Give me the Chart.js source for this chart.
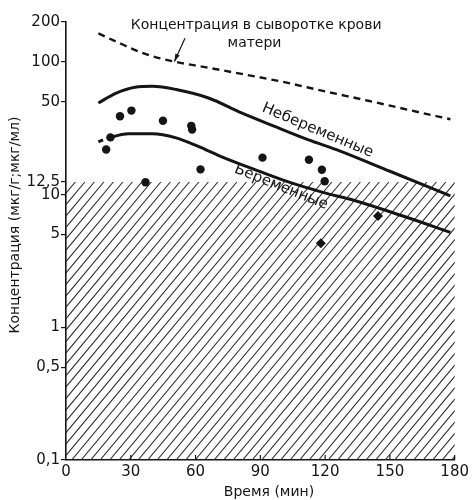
<!DOCTYPE html>
<html>
<head>
<meta charset="utf-8">
<script src="https://cdn.jsdelivr.net/npm/chart.js@4.4.0/dist/chart.umd.min.js"></script>
<style>
    body { margin: 0; background: #fff; }
    canvas { display: block; }
</style>
</head>
<body>
<canvas id="chart" width="472" height="500"></canvas>
<script>
// ---- data ----
const serumTime = [15, 25, 38, 50, 65, 80, 100, 120, 140, 160, 178];
const serumConc = [164, 138, 113, 100.7, 91, 82, 71, 60, 51, 43, 37];

const nonPregTime = [15, 23, 32, 40, 51, 66, 81, 96, 112, 127, 150, 178];
const nonPregConc = [49, 58, 64.5, 65.5, 62, 53.5, 41.5, 33, 26, 21.3, 15, 9.8];

const pregTime = [15, 20, 29, 40, 51, 61, 73, 89, 104, 119, 134, 156, 178];
const pregConc = [25, 26.8, 28.8, 28.8, 26.8, 23.2, 19, 15.1, 12.3, 10.4, 9.0, 6.9, 5.2];

const dotTime = [18.6, 20.6, 25, 30.3, 36.8, 44.9, 58, 58.4, 62.3, 91, 112.5, 118.5, 119.8];
const dotConc = [21.9, 27, 39, 43, 12.4, 36, 33, 31, 15.5, 19, 18.3, 15.4, 12.6];

const diamondTime = [118, 144.5];
const diamondConc = [4.3, 6.9];

const xTicks = [0, 30, 60, 90, 120, 150, 180];
const yTicks = [0.1, 0.5, 1, 5, 10, 12.5, 50, 100, 200];
const hatchLimit = 12.5;

const FONT = "'DejaVu Sans', sans-serif";
const INK = '#151515';

const pts = (xs, ys) => xs.map((x, i) => ({x: x, y: ys[i]}));

// hatched area below the detection limit + small inner x ticks
const hatchPlugin = {
    id: 'hatch',
    beforeDatasetsDraw(chart) {
        const ctx = chart.ctx;
        const xs = chart.scales.x, ys = chart.scales.y;
        const left = xs.getPixelForValue(0), right = xs.getPixelForValue(180);
        const top = ys.getPixelForValue(hatchLimit), bottom = ys.getPixelForValue(0.1);
        const h = bottom - top;
        const run = h / 1.2;
        ctx.save();
        ctx.beginPath();
        ctx.rect(left, top, right - left, h);
        ctx.clip();
        ctx.strokeStyle = '#2a2a2a';
        ctx.lineWidth = 1.1;
        ctx.beginPath();
        for (let x = left - run; x < right + 10; x += 9.5) {
            ctx.moveTo(x, bottom);
            ctx.lineTo(x + run, top);
        }
        ctx.stroke();
        ctx.restore();

        ctx.save();
        ctx.strokeStyle = INK;
        ctx.lineWidth = 1.2;
        ctx.beginPath();
        xTicks.slice(1).forEach(v => {
            const px = xs.getPixelForValue(v);
            ctx.moveTo(px, xs.top);
            ctx.lineTo(px, xs.top - 5);
        });
        ctx.stroke();
        ctx.restore();
    }
};

// texts, arrow and axis titles
const labelPlugin = {
    id: 'labels',
    afterDatasetsDraw(chart) {
        const ctx = chart.ctx;
        const xs = chart.scales.x, ys = chart.scales.y;
        const area = chart.chartArea;
        const px = t => xs.getPixelForValue(t);
        const py = v => ys.getPixelForValue(v);

        ctx.save();
        ctx.fillStyle = INK;
        ctx.textBaseline = 'middle';

        // maternal serum caption
        ctx.font = '14px ' + FONT;
        ctx.textAlign = 'left';
        ctx.fillText('Концентрация в сыворотке крови', px(30), py(188));
        ctx.textAlign = 'center';
        ctx.fillText('матери', px(87.3), py(139));

        // arrow to the dashed line
        const ax0 = px(55.1), ay0 = py(151), ax1 = px(50.2), ay1 = py(100.7);
        ctx.strokeStyle = INK;
        ctx.lineWidth = 1.2;
        ctx.beginPath();
        ctx.moveTo(ax0, ay0);
        ctx.lineTo(ax1, ay1);
        ctx.stroke();
        const ang = Math.atan2(ay1 - ay0, ax1 - ax0);
        ctx.beginPath();
        ctx.moveTo(ax1, ay1);
        ctx.lineTo(ax1 - 8 * Math.cos(ang - 0.3), ay1 - 8 * Math.sin(ang - 0.3));
        ctx.lineTo(ax1 - 8 * Math.cos(ang + 0.3), ay1 - 8 * Math.sin(ang + 0.3));
        ctx.closePath();
        ctx.fill();

        // curve labels
        ctx.font = '15px ' + FONT;
        ctx.save();
        ctx.translate(px(116.5), py(30.4));
        ctx.rotate(22.8 * Math.PI / 180);
        ctx.fillText('Небеременные', 0, 0);
        ctx.restore();

        ctx.save();
        ctx.translate(px(99.6), py(11.4));
        ctx.rotate(21.7 * Math.PI / 180);
        ctx.fillText('Беременные', 0, 0);
        ctx.restore();

        // axis titles
        ctx.font = '14px ' + FONT;
        ctx.save();
        ctx.translate(15, (area.top + area.bottom) / 2 - 16);
        ctx.rotate(-Math.PI / 2);
        ctx.fillText('Концентрация (мкг/г;мкг/мл)', 0, 0);
        ctx.restore();

        ctx.fillText('Время (мин)', px(94), area.bottom + 32);
        ctx.restore();
    }
};

new Chart(document.getElementById('chart'), {
    type: 'scatter',
    data: {
        datasets: [{
            data: pts(serumTime, serumConc),
            showLine: true,
            borderColor: INK,
            borderWidth: 2.4,
            borderDash: [7, 5],
            pointRadius: 0,
            cubicInterpolationMode: 'monotone'
        }, {
            data: pts(nonPregTime, nonPregConc),
            showLine: true,
            borderColor: INK,
            borderWidth: 3,
            pointRadius: 0,
            cubicInterpolationMode: 'monotone'
        }, {
            data: pts(pregTime, pregConc),
            showLine: true,
            borderColor: INK,
            borderWidth: 3,
            pointRadius: 0,
            cubicInterpolationMode: 'monotone',
            segment: {
                borderDash: c => c.p0DataIndex === 0 ? [5, 4] : undefined
            }
        }, {
            data: pts(dotTime, dotConc),
            pointRadius: 4.2,
            backgroundColor: INK,
            borderColor: INK,
            borderWidth: 0
        }, {
            data: pts(diamondTime, diamondConc),
            pointStyle: 'rectRot',
            pointRadius: 5,
            backgroundColor: INK,
            borderColor: INK,
            borderWidth: 0
        }]
    },
    options: {
        responsive: false,
        animation: false,
        layout: {padding: {left: 0, top: 22, right: 12, bottom: 0}},
        plugins: {
            legend: {display: false},
            tooltip: {enabled: false}
        },
        scales: {
            x: {
                type: 'linear',
                min: 0,
                max: 180,
                afterFit: s => { s.height = 40; },
                afterBuildTicks: s => { s.ticks = xTicks.map(v => ({value: v})); },
                grid: {drawOnChartArea: false, drawTicks: false},
                border: {display: true, color: INK, width: 1.6},
                ticks: {
                    padding: 3,
                    color: INK,
                    font: {family: FONT, size: 15},
                    maxRotation: 0,
                    autoSkip: false
                }
            },
            y: {
                type: 'logarithmic',
                min: 0.1,
                max: 200,
                afterFit: s => { s.width = 66; },
                afterBuildTicks: s => { s.ticks = yTicks.map(v => ({value: v})); },
                grid: {drawOnChartArea: false, drawTicks: true, tickLength: 5, color: INK, lineWidth: 1.2},
                border: {display: true, color: INK, width: 1.6},
                ticks: {
                    padding: 1,
                    color: INK,
                    font: {family: FONT, size: 15},
                    autoSkip: false,
                    callback: v => String(v).replace('.', ',')
                }
            }
        }
    },
    plugins: [hatchPlugin, labelPlugin]
});
</script>
</body>
</html>
